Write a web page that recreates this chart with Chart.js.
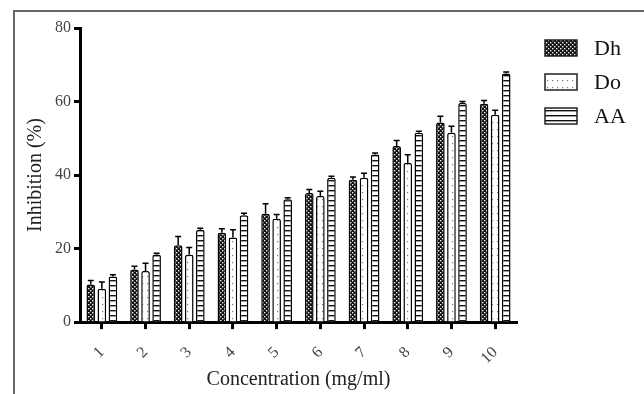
<!DOCTYPE html>
<html>
<head>
<meta charset="utf-8">
<script src="https://cdn.jsdelivr.net/npm/chart.js@4.4.1/dist/chart.umd.min.js"></script>
<style>
html,body{margin:0;padding:0;background:#fff;}
#wrap{position:relative;width:644px;height:394px;overflow:hidden;}
#frame{position:absolute;left:13px;top:10px;width:700px;height:500px;border-top:2px solid #666;border-left:2px solid #666;pointer-events:none;}
</style>
</head>
<body>
<div id="wrap">
<canvas id="chart" width="644" height="394"></canvas>
<div id="frame"></div>
</div>
<script>
const concentrations=["1","2","3","4","5","6","7","8","9","10"];
const seriesNames=["Dh","Do","AA"];
const dhValues=[10.2,14.3,20.9,24.3,29.5,35.1,38.7,47.9,54.3,59.4];
const dhErrors=[1.1,0.9,2.4,1.1,2.7,1.0,0.8,1.5,1.7,0.9];
const doValues=[9.1,13.9,18.3,23.0,28.1,34.3,39.3,43.3,51.5,56.4];
const doErrors=[1.8,2.1,2.0,2.1,1.2,1.3,1.2,2.2,1.8,1.2];
const aaValues=[12.4,18.4,25.1,29.1,33.4,39.3,45.6,51.5,59.6,67.6];
const aaErrors=[0.5,0.3,0.4,0.5,0.4,0.4,0.4,0.4,0.4,0.4];
const yTicks=[0,20,40,60,80];

const serif="'Liberation Serif','Times New Roman',serif";

function makePattern(w,h,draw){
const c=document.createElement("canvas");
c.width=w;c.height=h;
const g=c.getContext("2d");
g.fillStyle="#fff";
g.fillRect(0,0,w,h);
draw(g);
return document.getElementById("chart").getContext("2d").createPattern(c,"repeat");
}

// dark checkered fill
const dhPattern=makePattern(4,4,g=>{
g.fillStyle="#111";
g.fillRect(0,0,4,4);
g.fillStyle="#eee";
g.fillRect(0,0,1.4,1.4);
g.fillRect(2,2,1.4,1.4);
});
// white with sparse dots
const doPattern=makePattern(5,7,g=>{
g.fillStyle="#777";
g.fillRect(2,3,1.2,1.2);
});
// horizontal stripes
const aaPattern=makePattern(4,5,g=>{
g.fillStyle="#111";
g.fillRect(0,0,4,1.4);
});

const errorSets=[dhErrors,doErrors,aaErrors];

const errorBars={
id:"errorBars",
afterDatasetsDraw(chart){
const ctx=chart.ctx;
const y=chart.scales.y;
ctx.save();
ctx.strokeStyle="#000";
ctx.lineWidth=1.5;
chart.data.datasets.forEach((ds,i)=>{
const meta=chart.getDatasetMeta(i);
meta.data.forEach((bar,j)=>{
const top=y.getPixelForValue(ds.data[j]);
const hi=y.getPixelForValue(ds.data[j]+errorSets[i][j]);
ctx.beginPath();
ctx.moveTo(bar.x,top);
ctx.lineTo(bar.x,hi);
ctx.moveTo(bar.x-3,hi);
ctx.lineTo(bar.x+3,hi);
ctx.stroke();
});
});
ctx.restore();
}
};

const legendBoxes={
id:"legendBoxes",
afterDraw(chart){
const ctx=chart.ctx;
ctx.save();
chart.data.datasets.forEach((ds,i)=>{
const x=545,y=40+i*34;
ctx.fillStyle=ds.backgroundColor;
ctx.fillRect(x,y,32,16);
ctx.strokeStyle="#222";
ctx.lineWidth=1.5;
ctx.strokeRect(x,y,32,16);
ctx.fillStyle="#111";
ctx.font="22px "+serif;
ctx.textBaseline="middle";
ctx.fillText(ds.label,x+49,y+9);
});
ctx.restore();
}
};

function barSet(label,data,fill){
return{
label:label,
data:data,
backgroundColor:fill,
borderColor:"#000",
borderWidth:1.5,
borderRadius:{topLeft:2,topRight:2},
borderSkipped:"bottom",
categoryPercentage:0.76,
barPercentage:0.78
};
}

new Chart(document.getElementById("chart"),{
type:"bar",
data:{
labels:concentrations,
datasets:[
barSet(seriesNames[0],dhValues,dhPattern),
barSet(seriesNames[1],doValues,doPattern),
barSet(seriesNames[2],aaValues,aaPattern)
]
},
options:{
responsive:false,
animation:false,
layout:{padding:{left:24,right:127,top:28,bottom:2}},
plugins:{
legend:{display:false},
tooltip:{enabled:false}
},
scales:{
x:{
grid:{display:true,drawOnChartArea:false,offset:false,tickLength:7,tickWidth:3,tickColor:"#000"},
border:{display:true,width:3,color:"#000"},
ticks:{color:"#444",font:{family:serif,size:16},minRotation:45,maxRotation:45,padding:14},
title:{display:true,text:"Concentration (mg/ml)",color:"#222",font:{family:serif,size:20},padding:{top:-14,bottom:0}}
},
y:{
min:0,
max:80,
afterBuildTicks(axis){axis.ticks=yTicks.map(v=>({value:v}));},
grid:{display:true,drawOnChartArea:false,tickLength:6,tickWidth:3,tickColor:"#000"},
border:{display:true,width:3,color:"#000"},
ticks:{color:"#444",font:{family:serif,size:16},padding:3},
title:{display:true,text:"Inhibition (%)",color:"#222",font:{family:serif,size:20},padding:{top:0,bottom:4}}
}
}
},
plugins:[errorBars,legendBoxes]
});
</script>
</body>
</html>
